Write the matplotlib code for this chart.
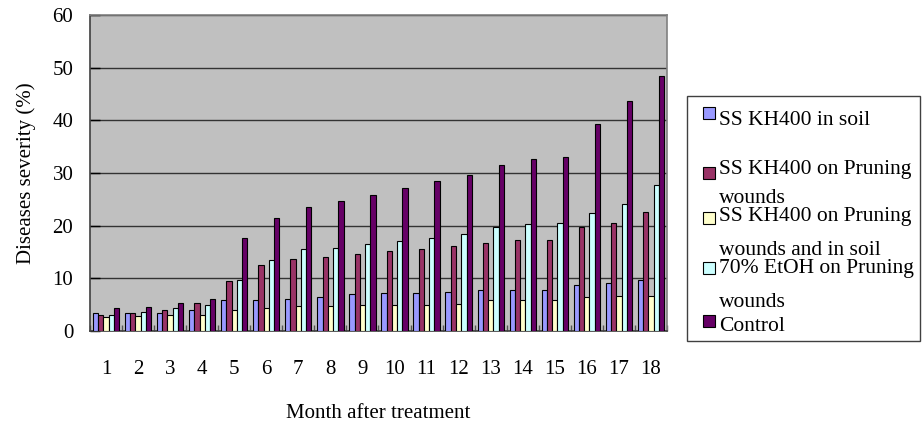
import matplotlib.pyplot as plt
from matplotlib.patches import Rectangle
import numpy as np

plt.rcParams['font.family'] = ['Liberation Serif', 'DejaVu Serif']

months = [str(m) for m in range(1, 19)]
ss_soil = [3.4, 3.4, 3.5, 3.9, 5.8, 5.9, 6.1, 6.4, 7.0, 7.2, 7.2, 7.4, 7.8, 7.8, 7.8, 8.7, 9.2, 9.7]
ss_wounds = [3.0, 3.4, 3.9, 5.4, 9.5, 12.5, 13.7, 14.0, 14.7, 15.1, 15.6, 16.1, 16.8, 17.3, 17.3, 19.8, 20.5, 22.6]
ss_both = [2.6, 2.8, 3.1, 3.1, 3.9, 4.4, 4.7, 4.7, 4.9, 5.0, 5.0, 5.2, 5.8, 5.8, 5.9, 6.4, 6.6, 6.6]
etoh = [3.1, 3.7, 4.4, 5.0, 9.7, 13.5, 15.6, 15.7, 16.6, 17.1, 17.6, 18.5, 19.8, 20.3, 20.5, 22.4, 24.1, 27.7]
control = [4.4, 4.6, 5.4, 6.0, 17.6, 21.4, 23.6, 24.7, 25.9, 27.1, 28.4, 29.7, 31.5, 32.6, 33.1, 39.3, 43.7, 48.5]

series = [ss_soil, ss_wounds, ss_both, etoh, control]
labels = ['SS KH400 in soil', 'SS KH400 on Pruning\nwounds',
          'SS KH400 on Pruning\nwounds and in soil', '70% EtOH on Pruning\nwounds', 'Control']
colors = ['#9999FF', '#993366', '#FFFFCC', '#CCFFFF', '#660066']

fig = plt.figure(figsize=(9.22, 4.25), dpi=100)
ax = fig.add_axes([0.0976, 0.2212, 0.6258, 0.7435])
ax.set_facecolor('#C0C0C0')

x = np.arange(len(months))
w = 0.164
for i, (vals, c) in enumerate(zip(series, colors)):
    ax.bar(x + (i - 2) * w, vals, width=w, color=c, edgecolor='black', linewidth=0.8, zorder=3)

ax.set_xlim(-0.5, len(months) - 0.5)
ax.set_ylim(0, 60)
ax.set_yticks(range(0, 61, 10))
ax.yaxis.grid(True, color='#333333', linewidth=1.0, zorder=1)
ax.tick_params(axis='y', direction='in', length=7, width=1, color='black', labelsize=15, pad=12)

ax.set_xticks(x)
ax.set_xticklabels(months)
ax.set_xticks(np.arange(-0.5, len(months), 1), minor=True)
ax.tick_params(axis='x', which='major', length=0, labelsize=15, pad=21)
ax.tick_params(axis='x', which='minor', direction='in', length=4, width=1, color='#555555')

for s in ['top', 'right']:
    ax.spines[s].set_color('#808080')
    ax.spines[s].set_linewidth(1.2)
for s in ['left', 'bottom']:
    ax.spines[s].set_color('#404040')
    ax.spines[s].set_linewidth(1.2)

ax.set_ylabel('Diseases severity (%)', fontsize=15, labelpad=12)
ax.set_xlabel('Month after treatment', fontsize=15, labelpad=18)

# legend box drawn by hand, pixel positions converted to figure fraction
W, H = 922, 425
fig.patches.append(Rectangle((687 / W, 1 - 341 / H), 233 / W, 245 / H, transform=fig.transFigure,
                             facecolor='white', edgecolor='#404040', linewidth=1.0))
marker_top = [107, 167, 212, 262, 315]
line_base = [[125], [174, 203], [221, 255], [273, 307], [331]]
for lab, c, my, bases in zip(labels, colors, marker_top, line_base):
    fig.patches.append(Rectangle((703 / W, 1 - (my + 12) / H), 12 / W, 12 / H, transform=fig.transFigure,
                                 facecolor=c, edgecolor='black', linewidth=0.8))
    for line, b in zip(lab.split('\n'), bases):
        fig.text(719 / W, 1 - b / H, line, fontsize=15.5, va='baseline', ha='left')

fig.savefig('out.png', dpi=100)
